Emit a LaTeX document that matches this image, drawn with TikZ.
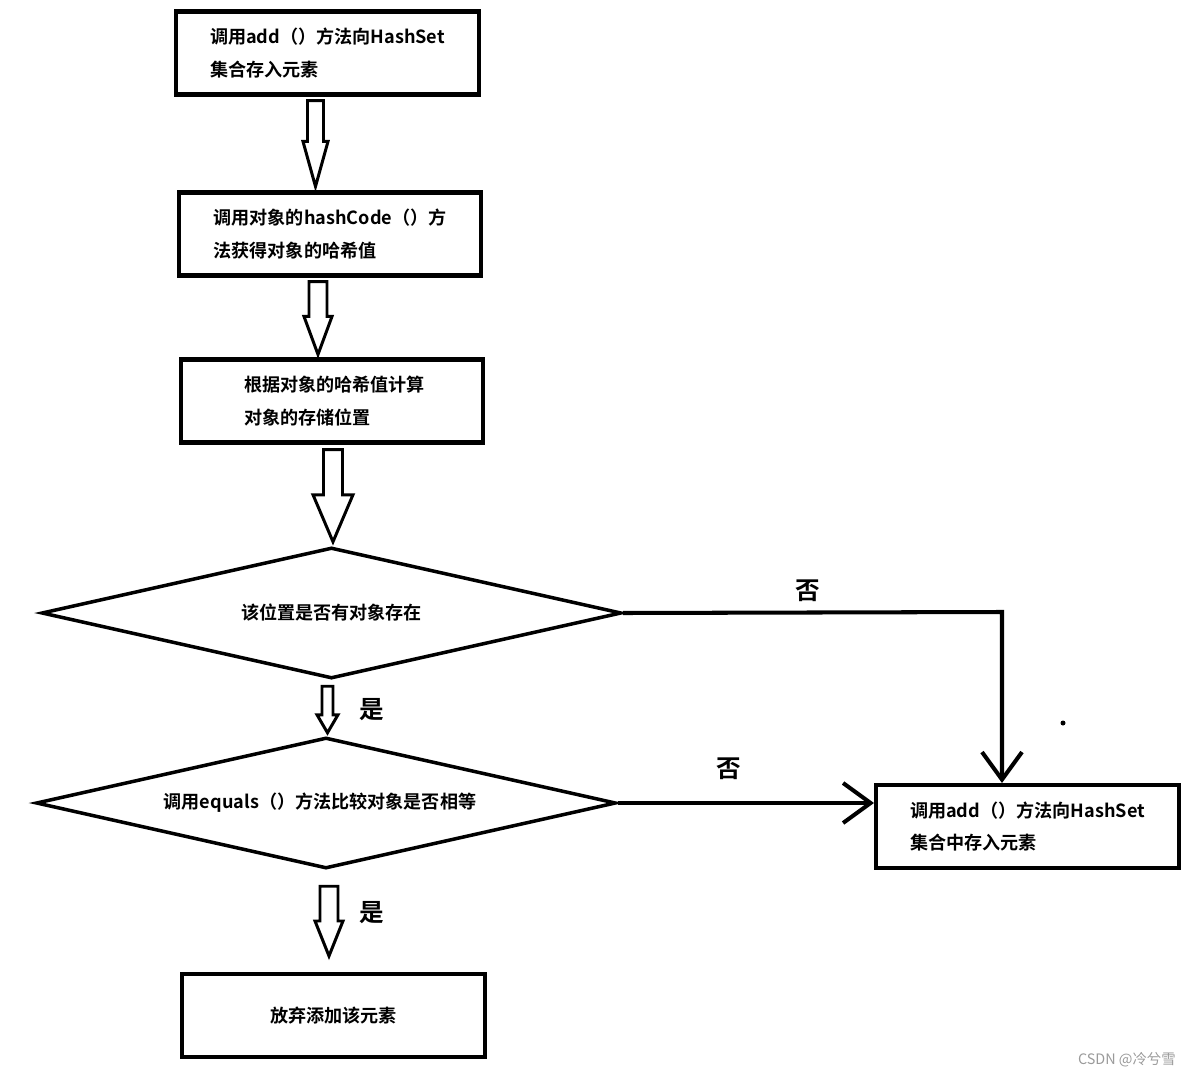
\documentclass[tikz,border=0pt]{standalone}
\usepackage{fontspec}
\setmainfont{Noto Sans CJK SC}[BoldFont={Noto Sans CJK SC Bold}]
\usepackage{tikz}
\usetikzlibrary{positioning,arrows.meta,shapes.geometric,calc}
\definecolor{flowink}{HTML}{000000}
\definecolor{markgray}{HTML}{9A9A9A}
% hollow block arrow: from, to, dx, top gap, tip gap, shaft half, head half, head length
\newcommand{\fatarrow}[8]{%
  \coordinate (fa-top) at ($(#1)+(#3,#4)$);
  \coordinate (fa-tip) at ($(fa-top |- #2)+(0,-#5)$);
  \draw[hollow] ($(fa-top)+(-#6,0)$) -- ($(fa-top)+(#6,0)$)
    -- ($(fa-tip)+(#6,-#8)$) -- ($(fa-tip)+(#7,-#8)$) -- (fa-tip)
    -- ($(fa-tip)+(-#7,-#8)$) -- ($(fa-tip)+(-#6,-#8)$) -- cycle;}

\begin{document}
\begin{tikzpicture}[
  x=0.02cm,y=-0.02cm,
  font=\fontsize{10.3}{18.6}\selectfont\bfseries,
  procbox/.style={draw=flowink,line width=2.3pt,align=left,inner sep=2pt,
                  minimum width=6.06cm,minimum height=1.66cm},
  dec/.style={draw=flowink,line width=2pt,shape=diamond,aspect=4.4,
              inner sep=1pt,minimum width=11.6cm,minimum height=2.62cm},
  arr/.style={-{Straight Barb[length=0.55cm,width=0.8cm]},flowink,line width=2.3pt},
  hollow/.style={draw=flowink,line width=1.7pt,line join=miter},
  yn/.style={font=\fontsize{14}{16}\selectfont\bfseries}
]
\useasboundingbox (0,0) rectangle (1197,1078);
% main column
\node[procbox] (add) at (327.5,53) {调用add（）方法向HashSet\\集合存入元素};
\node[procbox] (hash) at (330,234) {调用对象的hashCode（）方\\法获得对象的哈希值};
\node[procbox] (pos) at (332,401) {\hspace*{0.1cm}根据对象的哈希值计算\\\hspace*{0.1cm}对象的存储位置};
\node[dec] (occupied) at (331.5,613) {该位置是否有对象存在};
\node[dec] (equal) at (326,803) {\hspace*{-0.24cm}调用equals（）方法比较对象是否相等};
\node[procbox] (drop) at (333.5,1015.5) {放弃添加该元素};

% right side: store the element
\node[procbox] (store) at (1027.5,826.5) {调用add（）方法向HashSet\\集合中存入元素};

% block arrows down the column
\fatarrow{add.south}{hash.north}{-12}{4}{4}{8}{12.5}{45}
\fatarrow{hash.south}{pos.north}{-12}{4}{3}{9}{14}{38}
\fatarrow{pos.south}{occupied.north}{1}{5}{4}{9.5}{20}{47}
\fatarrow{occupied.south}{equal.north}{-4}{6}{3}{5.5}{10.5}{18}
\fatarrow{equal.south}{drop.north}{3}{16}{16}{9}{14}{35}

% no-branches
\coordinate (turn) at (1002,612);
\draw[arr] (occupied.east) -- (turn) -- (turn |- store.north);
\draw[arr] (equal.east) -- (equal.east -| store.west);

% labels
\node[yn] (no1) at (808,591) {否};
\node[yn] (no2) at (729,769) {否};
\node[yn] (yes1) at (372,710) {是};
\node[yn] (yes2) at (372,913) {是};

\fill[flowink] (1063,723) circle (2.5);
\node[font=\fontsize{8.2}{9}\selectfont,text=markgray,anchor=east] (mark) at (1182,1060) {CSDN @冷兮雪};
\end{tikzpicture}
\end{document}
